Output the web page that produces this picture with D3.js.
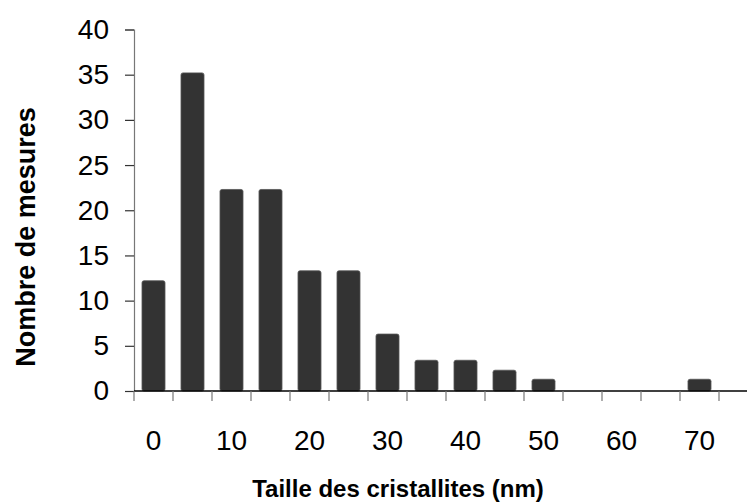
<!DOCTYPE html>
<html><head><meta charset="utf-8">
<script src="https://cdn.jsdelivr.net/npm/d3@7"></script>
<style>body{margin:0;background:#fff}svg{display:block}</style>
</head><body>
<svg id="c" width="747" height="504"></svg>
<script>
const categories = [0,5,10,15,20,25,30,35,40,45,50,55,60,65,70,75];
const values = [12.2,35.2,22.3,22.3,13.3,13.3,6.3,3.4,3.4,2.3,1.3,0,0,0,1.3,0];
const xTickLabels = [0,10,20,30,40,50,60,70];
const yTicks = [0,5,10,15,20,25,30,35,40];

(function(){
const svg = d3.select("#c");
const mL = 134, mR = 758, mT = 29.5, mB = 391;
const font = "'Liberation Sans', Arial, sans-serif";

const x = d3.scaleBand().domain(categories).range([mL, mR]).paddingInner(0.41).paddingOuter(0.205);
const xb = d3.scaleBand().domain(categories).range([mL, mR]);
const y = d3.scaleLinear().domain([0, 40]).range([mB, mT]);

// bars
svg.append("g").selectAll("rect").data(categories.map((c,i)=>({c, v: values[i]})).filter(d=>d.v>0))
  .join("rect")
  .attr("x", d => x(d.c))
  .attr("width", x.bandwidth())
  .attr("y", d => y(d.v))
  .attr("height", d => y(0) - y(d.v))
  .attr("rx", 2)
  .attr("fill", "#333333")
  .attr("stroke", "#555")
  .attr("stroke-width", 0.8);

// y axis
const ya = svg.append("g").attr("transform", `translate(${mL},0)`)
  .call(d3.axisLeft(y).tickValues(yTicks).tickSize(9).tickPadding(16).tickFormat(d3.format("d")));
ya.attr("font-size", null).attr("font-family", null);
ya.select(".domain").attr("stroke", "#777").attr("stroke-width", 1.2);
ya.selectAll(".tick line").attr("stroke", "#333").attr("stroke-width", 1.2);
ya.selectAll("text").style("font-family", font).style("font-size", "28px").attr("fill", "#000");

// x axis: ticks at band boundaries
const boundaries = categories.map(c => xb(c)).concat([mR]);
const xg = svg.append("g");
xg.append("line").attr("x1", mL).attr("x2", mR).attr("y1", mB).attr("y2", mB)
  .attr("stroke", "#000").attr("stroke-width", 1.5);
xg.selectAll("line.t").data(boundaries).join("line").attr("class","t")
  .attr("x1", d => d).attr("x2", d => d).attr("y1", mB).attr("y2", mB + 10)
  .attr("stroke", "#777").attr("stroke-width", 1.2);
xg.selectAll("text").data(xTickLabels).join("text")
  .attr("x", d => xb(d) + xb.bandwidth()/2)
  .attr("y", 450)
  .attr("text-anchor", "middle")
  .style("font-family", font).style("font-size", "28px")
  .text(d => d);

// axis titles
svg.append("text").attr("x", 398).attr("y", 497).attr("text-anchor", "middle")
  .style("font-family", font).style("font-size", "24px").attr("font-weight", "bold")
  .text("Taille des cristallites (nm)");
svg.append("text").attr("transform", "translate(35,237) rotate(-90)").attr("text-anchor", "middle")
  .style("font-family", font).style("font-size", "27px").attr("font-weight", "bold")
  .text("Nombre de mesures");
})();
</script>
</body></html>
